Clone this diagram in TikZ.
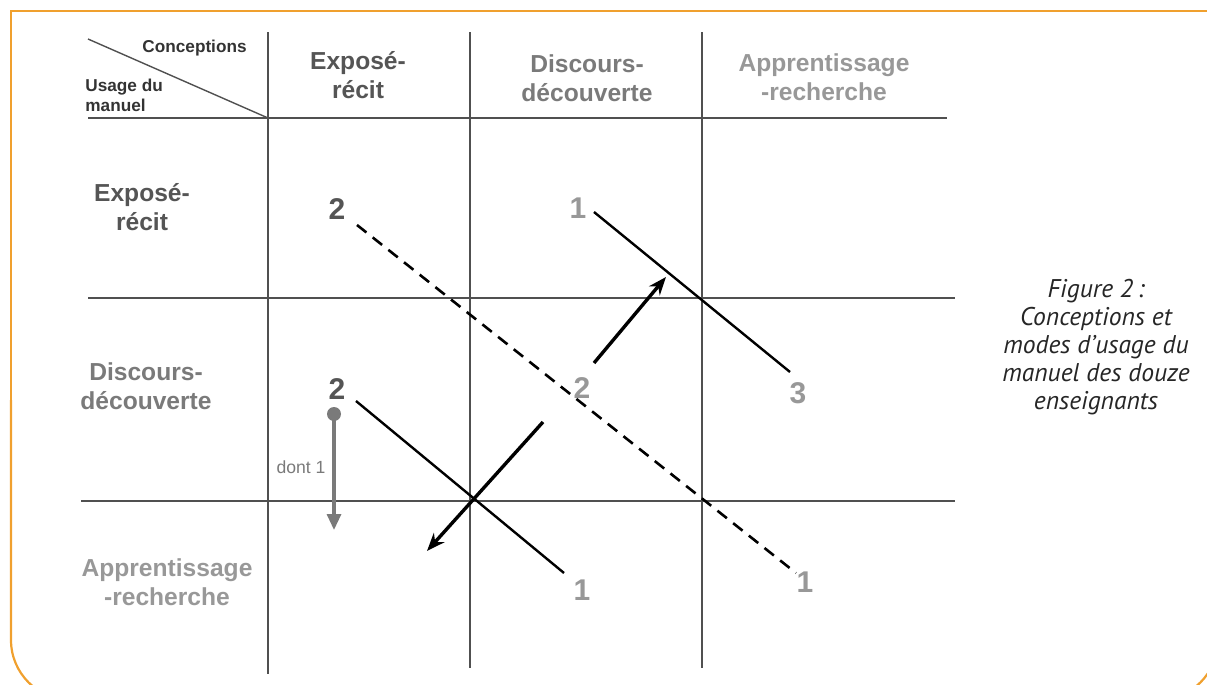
\documentclass[tikz,border=0pt]{standalone}
\usepackage{fontspec}
\setmainfont{Liberation Sans}
\newfontfamily\capfont{PT Sans}
\usetikzlibrary{arrows.meta}
\definecolor{frameor}{HTML}{F0A02E}
\definecolor{gridc}{HTML}{505050}
\definecolor{tdark}{HTML}{555555}
\definecolor{tmid}{HTML}{7A7A7A}
\definecolor{tlight}{HTML}{989898}
\definecolor{tcorner}{HTML}{333333}
\tikzset{
  frame/.style={draw=frameor, line width=1.1pt},
  grid/.style={draw=gridc, line width=0.7pt},
  headtxt/.style={font=\fontsize{12.3}{14.3}\selectfont\bfseries, align=center, inner sep=0pt},
  cornertxt/.style={font=\fontsize{8.6}{10}\selectfont\bfseries, text=tcorner, inner sep=0pt},
  num/.style={font=\fontsize{15}{15}\selectfont\bfseries, inner sep=0pt},
  link/.style={draw=black, line width=1.2pt},
  dlink/.style={draw=black, line width=1.3pt, dash pattern=on 6pt off 4pt},
  move/.style={draw=black, line width=1.7pt, -{Stealth[length=9pt,width=7pt]}},
  gmove/.style={draw=tmid, line width=1.6pt, -{Triangle[length=8pt,width=7pt]}},
}
\begin{document}
\begin{tikzpicture}[x=0.5pt,y=-0.5pt]
\useasboundingbox (0,0) rectangle (1207,685);
\begin{scope}
\clip (0,0) rectangle (1207,685);
\draw[frame] (1230,11) -- (11,11) -- (11,400);
\draw[frame, rounded corners=30pt] (11,400) -- (11,700) -- (1218,700) -- (1218,400);
\end{scope}

% grid
\coordinate (v1t) at (268,32);  \coordinate (v1b) at (268,674);
\coordinate (v2t) at (470,32);  \coordinate (v2b) at (470,668);
\coordinate (v3t) at (702,32);  \coordinate (v3b) at (702,668);
\coordinate (h1l) at (88,118);  \coordinate (h1r) at (947,118);
\coordinate (h2l) at (88,298);  \coordinate (h2r) at (955,298);
\coordinate (h3l) at (81,501);  \coordinate (h3r) at (955,501);
\coordinate (dgl) at (88,39);
\draw[grid] (v1t) -- (v1b);
\draw[grid] (v2t) -- (v2b);
\draw[grid] (v3t) -- (v3b);
\draw[grid] (h1l) -- (h1r);
\draw[grid] (h2l) -- (h2r);
\draw[grid] (h3l) -- (h3r);
\draw[grid] (dgl) -- (268,118);

% corner labels
\node[cornertxt, anchor=east] (conc) at (247,48) {Conceptions};
\node[cornertxt, anchor=west, align=left] (usage) at (85,95) {Usage du\\manuel};

% column headers
\node[headtxt, text=tdark] (c1) at (358,75) {Exposé-\\récit};
\node[headtxt, text=tmid] (c2) at (587,78) {Discours-\\découverte};
\node[headtxt, text=tlight] (c3) at (824,77) {Apprentissage\\-recherche};

% row headers
\node[headtxt, text=tdark] (r1) at (142,207) {Exposé-\\récit};
\node[headtxt, text=tmid] (r2) at (146,386) {Discours-\\découverte};
\node[headtxt, text=tlight] (r3) at (167,582) {Apprentissage\\-recherche};

% numbers
\node[num, text=tdark] (n1) at (337,209) {2};
\node[num, text=tlight] (n2) at (578,208) {1};
\node[num, text=tdark] (n3) at (337,389) {2};
\node[num, text=tlight] (n4) at (582,388) {2};
\node[num, text=tlight] (n5) at (798,393) {3};
\node[num, text=tlight] (n6) at (582,590) {1};
\node[num, text=tlight] (n7) at (805,582) {1};

% connectors
\coordinate (a1) at (357,225); \coordinate (a2) at (796,573);
\draw[dlink] (a1) -- (a2);
\coordinate (b1) at (594,212); \coordinate (b2) at (790,372);
\draw[link] (b1) -- (b2);
\coordinate (c1s) at (356,401); \coordinate (c1e) at (564,573);
\draw[link] (c1s) -- (c1e);
\coordinate (m1s) at (594,363); \coordinate (m1e) at (666,277);
\draw[move] (m1s) -- (m1e);
\coordinate (m2s) at (543,422); \coordinate (m2e) at (427,551);
\draw[move] (m2s) -- (m2e);

% dont 1
\node[circle, fill=tmid, inner sep=0pt, minimum size=7pt] (dot) at (334,414) {};
\coordinate (gend) at (334,530);
\draw[gmove] (dot.center) -- (gend);
\node[font=\fontsize{8.8}{10}\selectfont, text=tmid, inner sep=0pt] (dont) at (301,467) {dont 1};

% caption
\node[font=\capfont\itshape\fontsize{12.8}{14}\selectfont, text=black!85, align=center, inner sep=0pt] (cap) at (1096,347)
  {Figure 2\,:\\Conceptions et\\modes d’usage du\\manuel des douze\\enseignants};
\end{tikzpicture}
\end{document}
